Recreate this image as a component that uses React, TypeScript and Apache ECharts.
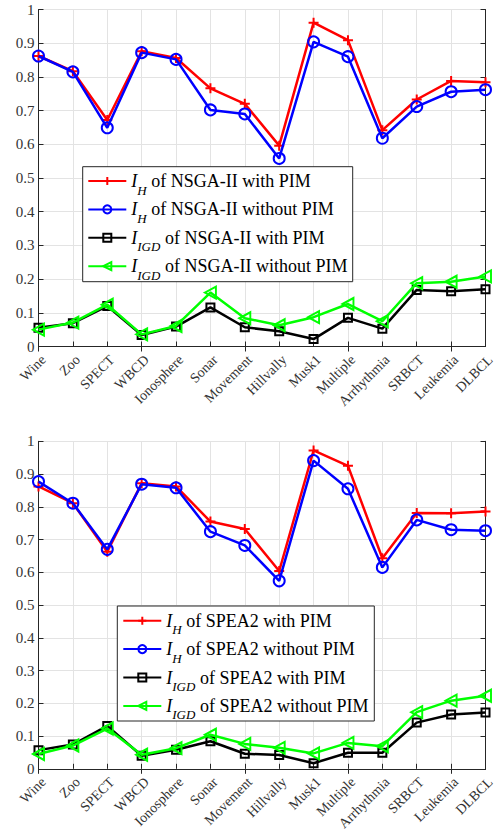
import React, { useEffect, useRef } from "react";
import * as echarts from "echarts";

const categories = ["Wine", "Zoo", "SPECT", "WBCD", "Ionosphere", "Sonar", "Movement", "Hillvally", "Musk1", "Multiple", "Arrhythmia", "SRBCT", "Leukemia", "DLBCL"];
const yTicks = [0, 0.1, 0.2, 0.3, 0.4, 0.5, 0.6, 0.7, 0.8, 0.9, 1];

const nsgaIhWith = [0.862, 0.817, 0.672, 0.876, 0.856, 0.766, 0.72, 0.596, 0.961, 0.909, 0.642, 0.733, 0.788, 0.784];
const nsgaIhWithout = [0.862, 0.815, 0.649, 0.872, 0.852, 0.702, 0.69, 0.558, 0.904, 0.86, 0.618, 0.712, 0.756, 0.762];
const nsgaIgdWith = [0.056, 0.069, 0.12, 0.034, 0.059, 0.116, 0.057, 0.045, 0.022, 0.085, 0.053, 0.168, 0.164, 0.17];
const nsgaIgdWithout = [0.05, 0.071, 0.124, 0.036, 0.061, 0.16, 0.084, 0.063, 0.087, 0.126, 0.075, 0.188, 0.192, 0.208];

const speaIhWith = [0.862, 0.811, 0.663, 0.872, 0.862, 0.755, 0.732, 0.604, 0.972, 0.925, 0.643, 0.781, 0.78, 0.786];
const speaIhWithout = [0.877, 0.811, 0.67, 0.869, 0.858, 0.724, 0.682, 0.574, 0.941, 0.855, 0.615, 0.76, 0.73, 0.727];
const speaIgdWith = [0.057, 0.074, 0.131, 0.04, 0.058, 0.084, 0.046, 0.042, 0.017, 0.049, 0.049, 0.141, 0.166, 0.172];
const speaIgdWithout = [0.045, 0.071, 0.123, 0.043, 0.063, 0.104, 0.076, 0.064, 0.047, 0.079, 0.069, 0.173, 0.208, 0.223];

const FONT = "'Liberation Serif', 'Times New Roman', serif";
const AXIS_COLOR = "#262626";
const GRID_COLOR = "#e3e3e3";

const PLUS = "path://M5,0L5,10M0,5L10,5";
const LEFT_TRI = "path://M0,5L10,0L10,10Z";

type Style = { color: string; symbol: string; size: number | number[] };
const styles: Style[] = [
  { color: "#ff0000", symbol: PLUS, size: 10 },
  { color: "#0000ff", symbol: "circle", size: 11 },
  { color: "#000000", symbol: "rect", size: 8 },
  { color: "#00ff00", symbol: LEFT_TRI, size: [11, 12] },
];

export default function App() {
  const ref = useRef<HTMLDivElement>(null);
  useEffect(() => {
    if (!ref.current) return;
    const chart = echarts.init(ref.current, null, { renderer: "svg" });

    const grids = [
      { left: 38.5, top: 9.5, width: 447, height: 337 },
      { left: 38.5, top: 441.3, width: 447, height: 337 },
    ];

    const xAxes: any[] = [];
    const yAxes: any[] = [];
    grids.forEach((_, gi) => {
      xAxes.push({
        type: "category",
        gridIndex: gi,
        data: categories,
        boundaryGap: false,
        position: "bottom",
        axisLine: { show: true, lineStyle: { color: AXIS_COLOR, width: 1 } },
        axisTick: { show: true, inside: true, length: 5, lineStyle: { color: AXIS_COLOR } },
        axisLabel: {
          rotate: 45,
          fontFamily: FONT,
          fontSize: 14,
          color: "#333",
          margin: 6,
          interval: 0,
          verticalAlign: "top",
        },
        splitLine: { show: true, lineStyle: { color: GRID_COLOR, width: 1 } },
      });
      xAxes.push({
        type: "category",
        gridIndex: gi,
        data: categories,
        boundaryGap: false,
        position: "top",
        axisLine: { show: true, lineStyle: { color: AXIS_COLOR, width: 1 } },
        axisTick: { show: true, inside: true, length: 5, lineStyle: { color: AXIS_COLOR } },
        axisLabel: { show: false },
        splitLine: { show: false },
      });
      yAxes.push({
        type: "value",
        gridIndex: gi,
        min: 0,
        max: 1,
        interval: 0.1,
        position: "left",
        axisLine: { show: true, lineStyle: { color: AXIS_COLOR, width: 1 } },
        axisTick: { show: true, inside: true, length: 5, lineStyle: { color: AXIS_COLOR } },
        axisLabel: {
          fontFamily: FONT,
          fontSize: 15,
          color: "#333",
          margin: 4,
          formatter: (v: number) => {
            const r = Math.round(v * 10) / 10;
            return yTicks.indexOf(r) >= 0 ? String(r) : "";
          },
        },
        splitLine: { show: true, lineStyle: { color: GRID_COLOR, width: 1 } },
      });
      yAxes.push({
        type: "value",
        gridIndex: gi,
        min: 0,
        max: 1,
        interval: 0.1,
        position: "right",
        axisLine: { show: true, lineStyle: { color: AXIS_COLOR, width: 1 } },
        axisTick: { show: true, inside: true, length: 5, lineStyle: { color: AXIS_COLOR } },
        axisLabel: { show: false },
        splitLine: { show: false },
      });
    });

    const groups = [
      { algo: "NSGA-II", data: [nsgaIhWith, nsgaIhWithout, nsgaIgdWith, nsgaIgdWithout] },
      { algo: "SPEA2", data: [speaIhWith, speaIhWithout, speaIgdWith, speaIgdWithout] },
    ];
    const suffixes = ["with PIM", "without PIM", "with PIM", "without PIM"];
    const subs = ["H", "H", "IGD", "IGD"];

    const series: any[] = [];
    const legendNames: string[][] = [];
    groups.forEach((g, gi) => {
      const names: string[] = [];
      g.data.forEach((d, si) => {
        const st = styles[si];
        const name = `I_${subs[si]} of ${g.algo} ${suffixes[si]}`;
        names.push(name);
        series.push({
          type: "line",
          name,
          xAxisIndex: gi * 2,
          yAxisIndex: gi * 2,
          data: d,
          symbol: st.symbol,
          symbolSize: st.size,
          showAllSymbol: true,
          lineStyle: { color: st.color, width: 2.5 },
          itemStyle: { color: "rgba(0,0,0,0)", borderColor: st.color, borderWidth: 2 },
          emphasis: { disabled: true },
          z: 2 + si,
        });
      });
      legendNames.push(names);
    });

    const rich = {
      i: { fontFamily: FONT, fontSize: 18, fontStyle: "italic", color: "#000", lineHeight: 18 },
      sub: { fontFamily: FONT, fontSize: 13, fontStyle: "italic", color: "#000", lineHeight: 13, padding: [18, 0, 0, 0] },
      t: { fontFamily: FONT, fontSize: 18, color: "#000", lineHeight: 18 },
    };
    const fmt = (name: string) => {
      const m = name.match(/^I_(\w+) (.*)$/);
      if (!m) return name;
      return `{i|I}{sub|${m[1]}}{t| ${m[2]}}`;
    };

    const legendPos = [
      { left: 87.3, top: 165.5 },
      { left: 122.3, top: 605.2 },
    ];
    const legends = legendNames.map((names, gi) => ({
      data: names,
      orient: "vertical",
      left: legendPos[gi].left,
      top: legendPos[gi].top,
      padding: 0,
      itemGap: -2.6,
      itemWidth: 38,
      itemHeight: 10,
      selectedMode: false,
      formatter: fmt,
      textStyle: { rich, fontFamily: FONT, fontSize: 18, color: "#000" },
    }));

    const boxes = [
      { x: 82.7, y: 166.7, w: 270, h: 115 },
      { x: 117.3, y: 606, w: 257, h: 115 },
    ];

    chart.setOption({
      animation: false,
      backgroundColor: "#fff",
      grid: grids,
      xAxis: xAxes,
      yAxis: yAxes,
      series,
      legend: legends,
      graphic: boxes.map((b) => ({
        type: "rect",
        z: 3,
        shape: { x: b.x, y: b.y, width: b.w, height: b.h },
        style: { fill: "#fff", stroke: AXIS_COLOR, lineWidth: 1 },
        silent: true,
      })),
    });

    return () => chart.dispose();
  }, []);

  return <div ref={ref} style={{ position: "absolute", left: 0, top: 0, width: 498, height: 833 }} />;
}
